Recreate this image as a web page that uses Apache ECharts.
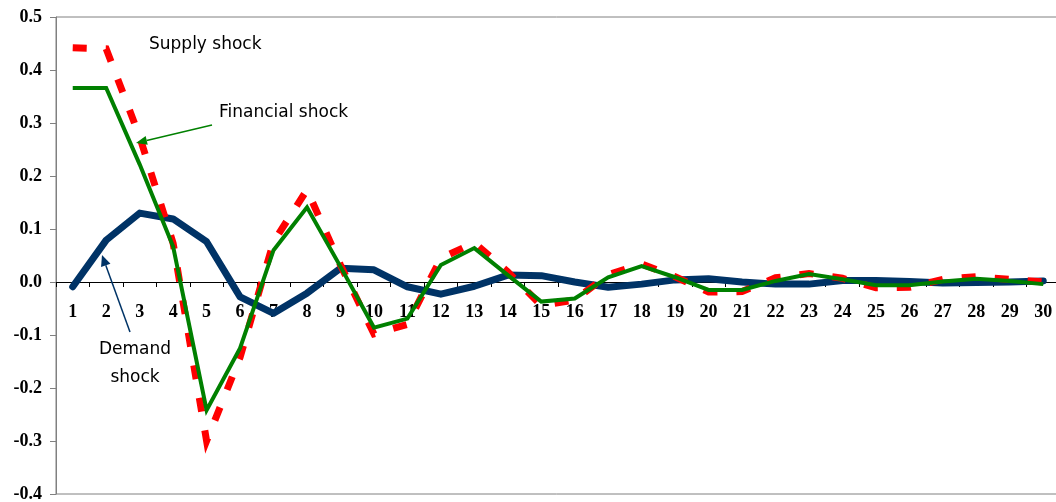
<!DOCTYPE html>
<html>
<head>
<meta charset="utf-8">
<script src="https://cdn.jsdelivr.net/npm/echarts@6/dist/echarts.min.js"></script>
<style>
  html, body { margin: 0; padding: 0; background: #ffffff; }
  #chart { width: 1056px; height: 502px; }
</style>
</head>
<body>
<div id="chart"></div>
<script>
var categories = ['1','2','3','4','5','6','7','8','9','10','11','12','13','14','15','16','17','18','19','20','21','22','23','24','25','26','27','28','29','30'];
var demandShock = [-0.009, 0.079, 0.130, 0.119, 0.076, -0.028, -0.059, -0.021, 0.026, 0.023, -0.009, -0.023, -0.008, 0.013, 0.012, 0.000, -0.010, -0.004, 0.004, 0.006, 0.000, -0.004, -0.004, 0.003, 0.003, 0.001, -0.002, -0.001, 0.000, 0.002];
var supplyShock = [0.442, 0.440, 0.274, 0.073, -0.300, -0.142, 0.076, 0.174, 0.032, -0.098, -0.080, 0.045, 0.074, 0.019, -0.044, -0.034, 0.014, 0.034, 0.010, -0.019, -0.018, 0.008, 0.016, 0.007, -0.011, -0.010, 0.005, 0.010, 0.005, 0.000];
var financialShock = [0.366, 0.366, 0.222, 0.067, -0.242, -0.125, 0.060, 0.141, 0.029, -0.086, -0.069, 0.032, 0.064, 0.013, -0.037, -0.031, 0.009, 0.030, 0.009, -0.015, -0.015, 0.002, 0.015, 0.005, -0.006, -0.006, 0.001, 0.006, 0.002, -0.004];
var seriesNames = ['Demand shock', 'Supply shock', 'Financial shock'];
var yMin = -0.4, yMax = 0.5, yStep = 0.1;

var gridTop = 17, gridHeight = 477;
// distance from the grid's bottom edge up to the zero line, so the category labels sit under the zero axis
var zeroOffset = gridHeight * (0 - yMin) / (yMax - yMin);

var chart = echarts.init(document.getElementById('chart'), null, { renderer: 'canvas' });

function arrow(x1, y1, x2, y2, color, len, half) {
  var dx = x2 - x1, dy = y2 - y1;
  var d = Math.sqrt(dx * dx + dy * dy);
  var ux = dx / d, uy = dy / d;
  var bx = x2 - ux * len, by = y2 - uy * len;
  var px = -uy, py = ux;
  return [
    { type: 'polyline', silent: true, z: 100,
      shape: { points: [[x1, y1], [bx, by]] },
      style: { stroke: color, lineWidth: 1.5, fill: null } },
    { type: 'polygon', silent: true, z: 100,
      shape: { points: [[x2, y2], [bx + px * half, by + py * half], [bx - px * half, by - py * half]] },
      style: { fill: color, stroke: null } }
  ];
}

var labelFont = '17px "DejaVu Sans"';
function label(text, x, y, align) {
  return { type: 'text', silent: true, z: 100,
    style: { text: text, x: x, y: y, fill: '#000000', font: labelFont,
      align: align || 'left', verticalAlign: 'middle',
      textAlign: align || 'left', textVerticalAlign: 'middle' } };
}

var graphics = [].concat(
  arrow(212, 125, 136, 143, '#008000', 11, 4.5),
  arrow(130, 332, 102, 255, '#003366', 11, 5),
  [
    label('Supply shock', 149, 45),
    label('Financial shock', 219, 113),
    label('Demand', 135, 350, 'center'),
    label('shock', 135, 378, 'center')
  ]
);

var option = {
  animation: false,
  backgroundColor: '#ffffff',
  grid: { left: 56, top: gridTop, width: 1004, height: gridHeight, containLabel: false, outerBoundsMode: 'none',
    show: true, borderColor: '#808080', borderWidth: 1, backgroundColor: 'transparent' },
  xAxis: [{
    type: 'category',
    data: categories,
    boundaryGap: true,
    axisLine: { show: true, onZero: true, lineStyle: { color: '#000000', width: 1 } },
    axisTick: { show: true, length: 5, alignWithLabel: false, lineStyle: { color: '#000000' } },
    axisLabel: { show: false },
    splitLine: { show: false }
  }, {
    type: 'category',
    data: categories,
    boundaryGap: true,
    position: 'bottom',
    offset: -zeroOffset,
    axisLine: { show: false, onZero: false },
    axisTick: { show: false },
    axisLabel: { show: true, interval: 0, margin: 21, color: '#000000', fontFamily: 'Liberation Serif', fontWeight: 'bold', fontSize: 18 },
    splitLine: { show: false }
  }],
  yAxis: {
    type: 'value',
    min: yMin, max: yMax, interval: yStep,
    axisLine: { show: true, lineStyle: { color: '#808080', width: 1 } },
    axisTick: { show: true, length: 6, lineStyle: { color: '#808080' } },
    axisLabel: { margin: 14, color: '#000000', fontFamily: 'Liberation Serif', fontWeight: 'bold', fontSize: 18,
      formatter: function (v) { return (Math.round(v * 10) / 10).toFixed(1); } },
    splitLine: { show: false }
  },
  series: [
    { name: seriesNames[0], type: 'line', data: demandShock, symbol: 'none', z: 2,
      lineStyle: { color: '#003366', width: 7, cap: 'round', join: 'round' } },
    { name: seriesNames[1], type: 'line', data: supplyShock, symbol: 'none', z: 3,
      lineStyle: { color: '#ff0000', width: 7, type: [14, 19], cap: 'butt', join: 'miter' } },
    { name: seriesNames[2], type: 'line', data: financialShock, symbol: 'none', z: 4,
      lineStyle: { color: '#008000', width: 4, cap: 'butt', join: 'miter' } }
  ],
  graphic: graphics
};
chart.setOption(option);
</script>
</body>
</html>
